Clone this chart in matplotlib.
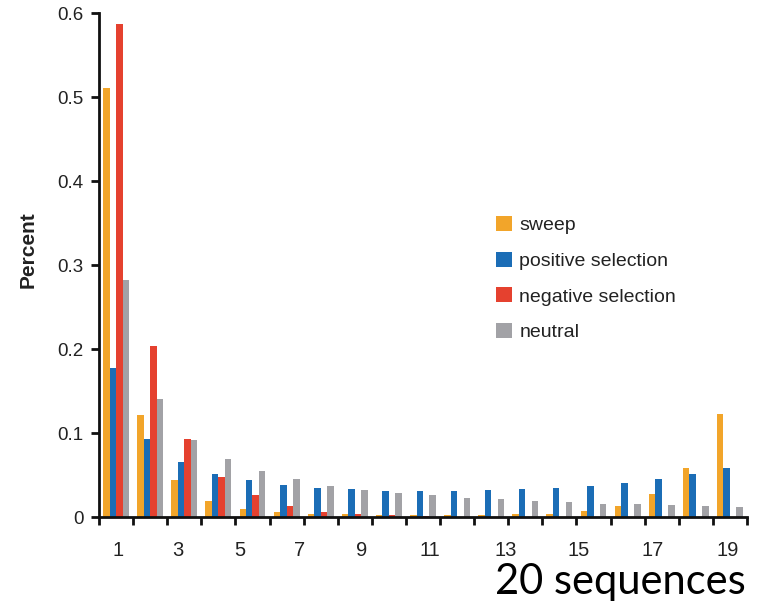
import numpy as np
import matplotlib
matplotlib.use("Agg")
import matplotlib.pyplot as plt
from matplotlib.patches import Patch

# derived allele count classes (out of 20 sequences)
classes = list(range(1, 20))

sweep = [0.511, 0.121, 0.044, 0.019, 0.010, 0.006, 0.004, 0.003, 0.002, 0.002,
         0.002, 0.002, 0.003, 0.004, 0.007, 0.013, 0.027, 0.058, 0.123]
positive = [0.177, 0.093, 0.065, 0.051, 0.044, 0.038, 0.035, 0.033, 0.031, 0.031,
            0.031, 0.032, 0.033, 0.035, 0.037, 0.040, 0.045, 0.051, 0.058]
negative = [0.587, 0.203, 0.093, 0.048, 0.026, 0.013, 0.006, 0.003, 0.002, 0.001,
            0, 0, 0, 0, 0, 0, 0, 0, 0]
neutral = [0.282, 0.140, 0.092, 0.069, 0.055, 0.045, 0.037, 0.032, 0.029, 0.026,
           0.023, 0.021, 0.019, 0.018, 0.016, 0.015, 0.014, 0.013, 0.012]

series_names = ["sweep", "positive selection", "negative selection", "neutral"]
colors = ["#F2A52A", "#1B6DB6", "#E5412F", "#A2A2A6"]

tick_labels = ["1", "3", "5", "7", "9", "11", "13", "15", "17", "19"]
# where the labels sit in the original figure (slightly off the group centres)
tick_label_pos = [1.06, 2.82, 4.63, 6.39, 8.21, 10.21, 12.41, 14.55, 16.72, 18.92]

plt.rcParams['font.family'] = ['Liberation Sans', 'DejaVu Sans']

fig = plt.figure(figsize=(7.68, 6.03), dpi=100)
ax = fig.add_axes([99 / 768, 1 - 517 / 603, (747 - 99) / 768, (517 - 13) / 603])

x = np.array(classes, dtype=float)
w = 0.19
for i, (vals, c) in enumerate(zip([sweep, positive, negative, neutral], colors)):
    ax.bar(x + (i - 1.5) * w, vals, width=w, color=c, linewidth=0)

ax.set_xlim(0.5, 19.5)
ax.set_ylim(0, 0.6)

for s in ["top", "right"]:
    ax.spines[s].set_visible(False)
for s in ["left", "bottom"]:
    ax.spines[s].set_linewidth(2.0)
    ax.spines[s].set_color("#111111")

# ticks at the group boundaries, labels for odd classes
ax.set_xticks(np.arange(0.5, 20, 1.0))
ax.set_xticklabels([])
ax.tick_params(axis="x", direction="out", length=6, width=2.0, color="#111111")
for pos, lab in zip(tick_label_pos, tick_labels):
    ax.text(pos, -0.029, lab, ha="center", va="top", fontsize=14.5, color="#222222")

ax.set_yticks([0, 0.1, 0.2, 0.3, 0.4, 0.5, 0.6])
ax.set_yticklabels(["0", "0.1", "0.2", "0.3", "0.4", "0.5", "0.6"], fontsize=13.5, color="#222222")
ax.tick_params(axis="y", direction="out", length=6, width=2.0, color="#111111", pad=5)

fig.text(28 / 768, 1 - 250 / 603, "Percent", rotation=90, ha="center", va="center",
         fontsize=15, fontweight="bold", color="#222222")

handles = [Patch(facecolor=c, edgecolor="none") for c in colors]
ax.legend(handles, series_names, loc="upper left",
          bbox_to_anchor=(496 / 768, 1 - 216 / 603), bbox_transform=fig.transFigure,
          frameon=False, fontsize=14, handlelength=0.8, handleheight=0.8,
          handletextpad=0.4, labelspacing=0.9, borderpad=0, borderaxespad=0,
          labelcolor="#222222")

fig.text(746 / 768, 1 - 594 / 603, "20 sequences", ha="right", va="baseline",
         fontsize=30, family="Lato", color="black")

fig.savefig("out.png", dpi=100)
